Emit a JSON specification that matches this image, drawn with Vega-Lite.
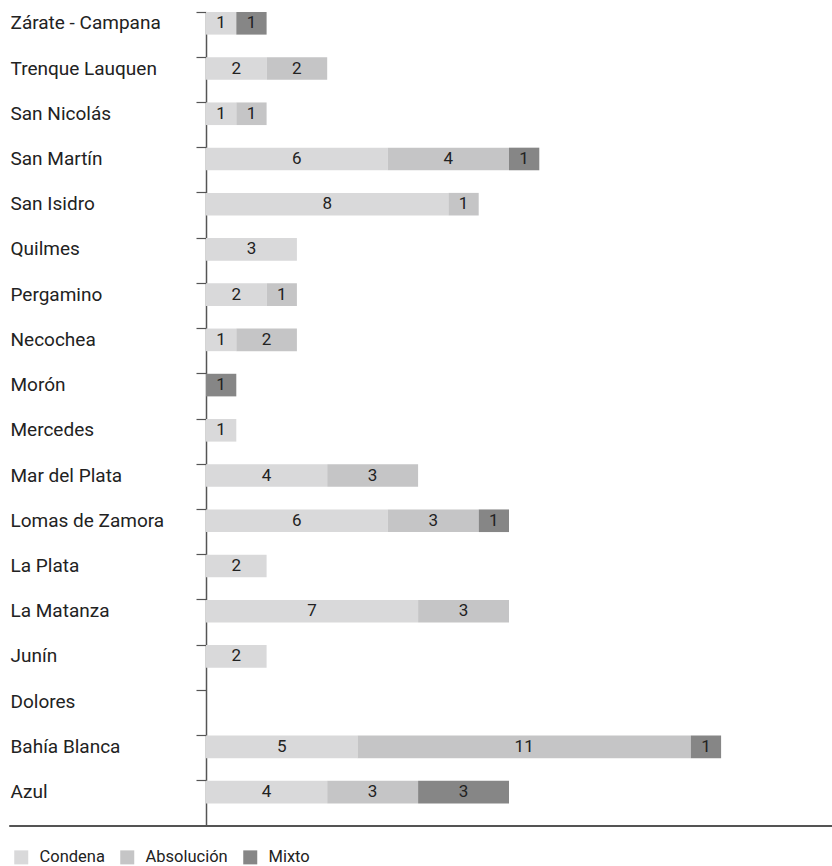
{
  "$schema": "https://vega.github.io/schema/vega-lite/v6.json",
  "autosize": "none",
  "padding": {"left": 206, "top": 12, "right": 0, "bottom": 40},
  "width": 626,
  "height": 814,
  "config": {
    "font": "Roboto",
    "view": {"stroke": null},
    "axis": {"domainColor": "#555", "tickColor": "#555", "labelColor": "#222"}
  },
  "data": {
    "values": [
      {"region": "Zárate - Campana", "tipo": "Condena", "n": 1},
      {"region": "Zárate - Campana", "tipo": "Mixto", "n": 1},
      {"region": "Trenque Lauquen", "tipo": "Condena", "n": 2},
      {"region": "Trenque Lauquen", "tipo": "Absolución", "n": 2},
      {"region": "San Nicolás", "tipo": "Condena", "n": 1},
      {"region": "San Nicolás", "tipo": "Absolución", "n": 1},
      {"region": "San Martín", "tipo": "Condena", "n": 6},
      {"region": "San Martín", "tipo": "Absolución", "n": 4},
      {"region": "San Martín", "tipo": "Mixto", "n": 1},
      {"region": "San Isidro", "tipo": "Condena", "n": 8},
      {"region": "San Isidro", "tipo": "Absolución", "n": 1},
      {"region": "Quilmes", "tipo": "Condena", "n": 3},
      {"region": "Pergamino", "tipo": "Condena", "n": 2},
      {"region": "Pergamino", "tipo": "Absolución", "n": 1},
      {"region": "Necochea", "tipo": "Condena", "n": 1},
      {"region": "Necochea", "tipo": "Absolución", "n": 2},
      {"region": "Morón", "tipo": "Mixto", "n": 1},
      {"region": "Mercedes", "tipo": "Condena", "n": 1},
      {"region": "Mar del Plata", "tipo": "Condena", "n": 4},
      {"region": "Mar del Plata", "tipo": "Absolución", "n": 3},
      {"region": "Lomas de Zamora", "tipo": "Condena", "n": 6},
      {"region": "Lomas de Zamora", "tipo": "Absolución", "n": 3},
      {"region": "Lomas de Zamora", "tipo": "Mixto", "n": 1},
      {"region": "La Plata", "tipo": "Condena", "n": 2},
      {"region": "La Matanza", "tipo": "Condena", "n": 7},
      {"region": "La Matanza", "tipo": "Absolución", "n": 3},
      {"region": "Junín", "tipo": "Condena", "n": 2},
      {"region": "Bahía Blanca", "tipo": "Condena", "n": 5},
      {"region": "Bahía Blanca", "tipo": "Absolución", "n": 11},
      {"region": "Bahía Blanca", "tipo": "Mixto", "n": 1},
      {"region": "Azul", "tipo": "Condena", "n": 4},
      {"region": "Azul", "tipo": "Absolución", "n": 3},
      {"region": "Azul", "tipo": "Mixto", "n": 3}
    ]
  },
  "transform": [
    {"calculate": "indexof(['Condena', 'Absolución', 'Mixto'], datum.tipo)", "as": "orden"}
  ],
  "encoding": {
    "y": {
      "field": "region",
      "type": "nominal",
      "scale": {
        "domain": ["Zárate - Campana", "Trenque Lauquen", "San Nicolás", "San Martín", "San Isidro", "Quilmes", "Pergamino", "Necochea", "Morón", "Mercedes", "Mar del Plata", "Lomas de Zamora", "La Plata", "La Matanza", "Junín", "Dolores", "Bahía Blanca", "Azul"],
        "paddingInner": 0.5,
        "paddingOuter": 0.25,
        "align": 0
      },
      "axis": {
        "title": null,
        "bandPosition": 0,
        "labelAlign": "left",
        "labelPadding": 186,
        "labelFontSize": 19,
        "tickSize": 10,
        "domainWidth": 1.5,
        "tickWidth": 1.2
      }
    },
    "order": {"field": "orden", "type": "quantitative", "sort": "ascending"}
  },
  "layer": [
    {
      "mark": {"type": "bar"},
      "encoding": {
        "x": {
          "field": "n",
          "type": "quantitative",
          "stack": "zero",
          "scale": {"domain": [0, 20.66], "nice": false},
          "axis": null
        },
        "color": {
          "field": "tipo",
          "type": "nominal",
          "scale": {
            "domain": ["Condena", "Absolución", "Mixto"],
            "range": ["#d9d9da", "#c5c5c6", "#868686"]
          },
          "legend": {
            "title": null,
            "orient": "none",
            "direction": "horizontal",
            "legendX": -193,
            "legendY": 837,
            "symbolType": "square",
            "symbolSize": 196,
            "symbolStrokeWidth": 0,
            "labelFontSize": 16.5,
            "labelOffset": 10,
            "labelColor": "#222",
            "columnPadding": 14
          }
        }
      }
    },
    {
      "mark": {"type": "text", "fontSize": 17, "color": "#222", "baseline": "middle"},
      "encoding": {
        "x": {
          "field": "n",
          "type": "quantitative",
          "stack": "zero",
          "bandPosition": 0.5
        },
        "detail": {"field": "tipo", "type": "nominal"},
        "text": {"field": "n", "type": "quantitative"}
      }
    },
    {
      "mark": {"type": "rule", "color": "#555", "strokeWidth": 1.5},
      "encoding": {
        "x": {"datum": -6.47},
        "x2": {"datum": 20.66},
        "y": {"value": "height"}
      }
    }
  ]
}
